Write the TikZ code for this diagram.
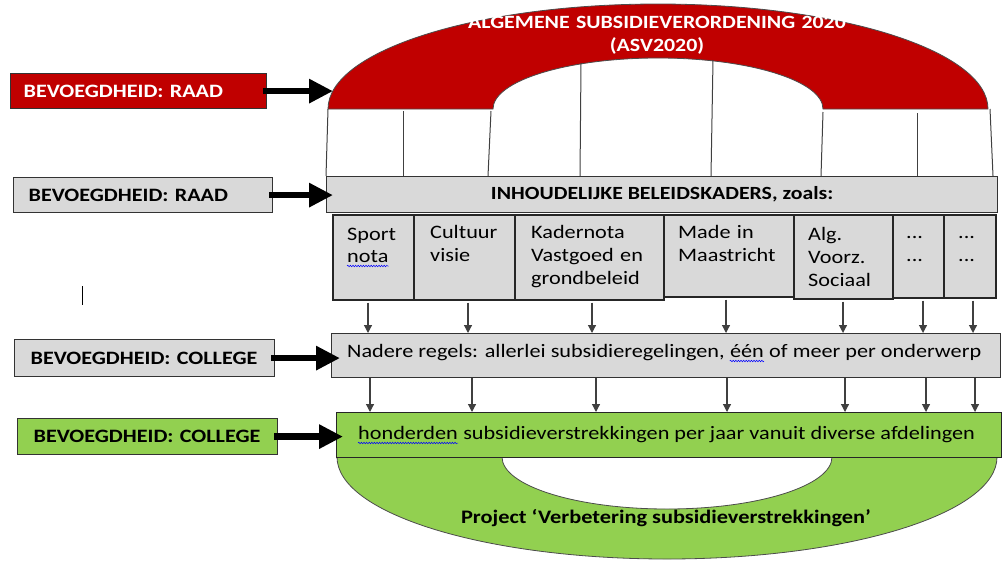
\documentclass[tikz,border=0pt]{standalone}
\usepackage{fontspec}
\setmainfont{Carlito}[FakeStretch=1.17]
\usetikzlibrary{arrows.meta,decorations.pathmorphing}
\definecolor{asvred}{HTML}{C00000}
\definecolor{boxgray}{HTML}{D9D9D9}
\definecolor{boxgreen}{HTML}{92D050}
\begin{document}
\begin{tikzpicture}[x=1pt,y=-1pt,
  lbl/.style={draw=black!80, line width=1.2pt, anchor=north west, inner ysep=0pt, align=left,
    font=\fontsize{18.9}{21}\selectfont\bfseries},
  subbox/.style={draw=black!85, line width=1.6pt, fill=boxgray, anchor=north west, inner sep=0pt},
  subtxt/.style={anchor=base west, inner sep=0pt, align=left, font=\fontsize{19}{23}\selectfont},
  word/.style={anchor=base west, inner sep=0pt, font=\fontsize{19}{23}\selectfont},
  wave/.style={draw=blue, line width=0.5pt, decorate, decoration={snake, amplitude=0.8pt, segment length=2.6pt}},
  bigarrow/.style={line width=6.5pt, -{Triangle[length=24pt,width=23pt]}},
  smallarrow/.style={draw=black!75, line width=1.2pt, -{Triangle[length=8pt,width=8pt]}},
  archline/.style={draw=black!75, line width=1pt}]
\useasboundingbox (0,0) rectangle (1003,562);

% red arch
\filldraw[fill=asvred, draw=black!70, line width=0.8pt]
  (328,109) arc[start angle=180, end angle=360, x radius=330, y radius=105]
  -- (823,109) arc[start angle=0, end angle=-180, x radius=165, y radius=51] -- cycle;
\node[text=white, anchor=base, text width=440pt, align=center, inner sep=0pt,
  font=\fontsize{18.7}{23}\selectfont\bfseries] (title) at (657,28.5)
  {ALGEMENE SUBSIDIEVERORDENING 2020\\(ASV2020)};

% left labels
\node[lbl, fill=asvred, text=white, minimum height=35pt, text width=230pt, inner xsep=13pt] (rl) at (10,73) {BEVOEGDHEID: RAAD};
\node[lbl, fill=boxgray, minimum height=35pt, text width=229pt, inner xsep=15pt] (g1) at (13,177) {BEVOEGDHEID: RAAD};
\node[lbl, fill=boxgray, minimum height=37pt, text width=228pt, inner xsep=16pt] (g2) at (14,339) {BEVOEGDHEID: COLLEGE};
\node[lbl, fill=boxgreen, minimum height=36pt, text width=228pt, inner xsep=16pt] (gr) at (17,418) {BEVOEGDHEID: COLLEGE};

% beleidskaders
\node[draw=black!80, line width=1.2pt, fill=boxgray, anchor=north west, minimum width=671pt, minimum height=36pt,
  font=\fontsize{18.6}{21}\selectfont\bfseries] (inh) at (326,176) {INHOUDELIJKE BELEIDSKADERS, zoals:};

% lines under the arch
\draw[archline] (328,109) -- (326,176);
\draw[archline] (403,111) -- (403,176);
\draw[archline] (491,111) -- (488,176);
\draw[archline] (581,63) -- (580,176);
\draw[archline] (713,60) -- (711,176);
\draw[archline] (823,112) -- (821,176);
\draw[archline] (917,113) -- (917,176);
\draw[archline] (990,109) -- (993,176);

% sub boxes
\node[subbox, minimum width=81pt, minimum height=85pt] (sp) at (332,214) {};
\node[subbox, minimum width=101pt, minimum height=85pt] (cu) at (413,214) {};
\node[subbox, minimum width=149pt, minimum height=85pt] (ka) at (514,214) {};
\node[subbox, minimum width=130pt, minimum height=82pt] (ma) at (663,214) {};
\node[subbox, minimum width=99pt, minimum height=84pt] (al) at (793,214) {};
\node[subbox, minimum width=51pt, minimum height=83pt] (d1) at (892,214) {};
\node[subbox, minimum width=52pt, minimum height=83pt] (d2) at (943,214) {};

\node[word] (spa) at (347,240) {Sport};
\node[word] (spb) at (347,262) {nota};
\draw[wave] ([yshift=-4pt]spb.base west) -- ([yshift=-4pt]spb.base east);
\node[subtxt, text width=80pt] (cut) at (430,238) {Cultuur\\visie};
\node[subtxt, text width=130pt] (kat) at (531,238) {Kadernota\\Vastgoed en\\grondbeleid};
\node[subtxt, text width=110pt] (mat) at (678,238) {Made in\\Maastricht};
\node[subtxt, text width=80pt] (alt) at (808,240) {Alg.\\Voorz.\\Sociaal};
\node[subtxt, text width=30pt] (d1t) at (906,238) {...\\...};
\node[subtxt, text width=30pt] (d2t) at (958,238) {...\\...};

% nadere regels
\node[draw=black!80, line width=1.2pt, fill=boxgray, anchor=north west, minimum width=669pt, minimum height=44pt] (nad) at (331,333) {};
\node[word] (nada) at (347,357) {Nadere regels: allerlei subsidieregelingen,};
\node[word] (nadb) at ([xshift=5pt]nada.base east) {één};
\node[word] (nadc) at ([xshift=5pt]nadb.base east) {of meer per onderwerp};
\draw[wave] ([yshift=-4pt]nadb.base west) -- ([yshift=-4pt]nadb.base east);

% green arch and box
\filldraw[fill=boxgreen, draw=black!70, line width=0.8pt]
  (337,457) arc[start angle=180, end angle=0, x radius=330, y radius=102]
  -- (832,457) arc[start angle=0, end angle=180, x radius=165, y radius=52] -- cycle;
\node[draw=black!85, line width=1.4pt, fill=boxgreen, anchor=north west, minimum width=665pt, minimum height=45pt] (grn) at (336,412) {};
\node[word] (grna) at (358,439) {honderden};
\node[word] (grnb) at ([xshift=5pt]grna.base east) {subsidieverstrekkingen per jaar vanuit diverse afdelingen};
\draw[wave] ([yshift=-4pt]grna.base west) -- ([yshift=-4pt]grna.base east);
\node[anchor=base, inner sep=0pt, font=\fontsize{19.1}{22}\selectfont\bfseries] (proj) at (666,523)
  {Project ‘Verbetering subsidieverstrekkingen’};

% thick arrows
\draw[bigarrow] ([xshift=-4pt]rl.east) -- (333,0 |- rl.east);
\draw[bigarrow] ([xshift=-4pt]g1.east) -- (333,0 |- g1.east);
\draw[bigarrow] ([xshift=-4pt]g2.east) -- (340,0 |- g2.east);
\draw[bigarrow] ([xshift=-4pt]gr.east) -- (343,0 |- gr.east);

% small arrows
\foreach \x/\b in {368/sp,468/cu,592/ka,726/ma,843/al,923/d1,973/d2}
  \draw[smallarrow] ([yshift=-2pt]\x,0 |- \b.south) -- (\x,0 |- nad.north);
\foreach \x in {370,472,596,727,845,926,975}
  \draw[smallarrow] (\x,0 |- nad.south) -- (\x,0 |- grn.north);

% cursor mark
\draw[line width=1pt] (82,286) -- (82,305);
\end{tikzpicture}
\end{document}
